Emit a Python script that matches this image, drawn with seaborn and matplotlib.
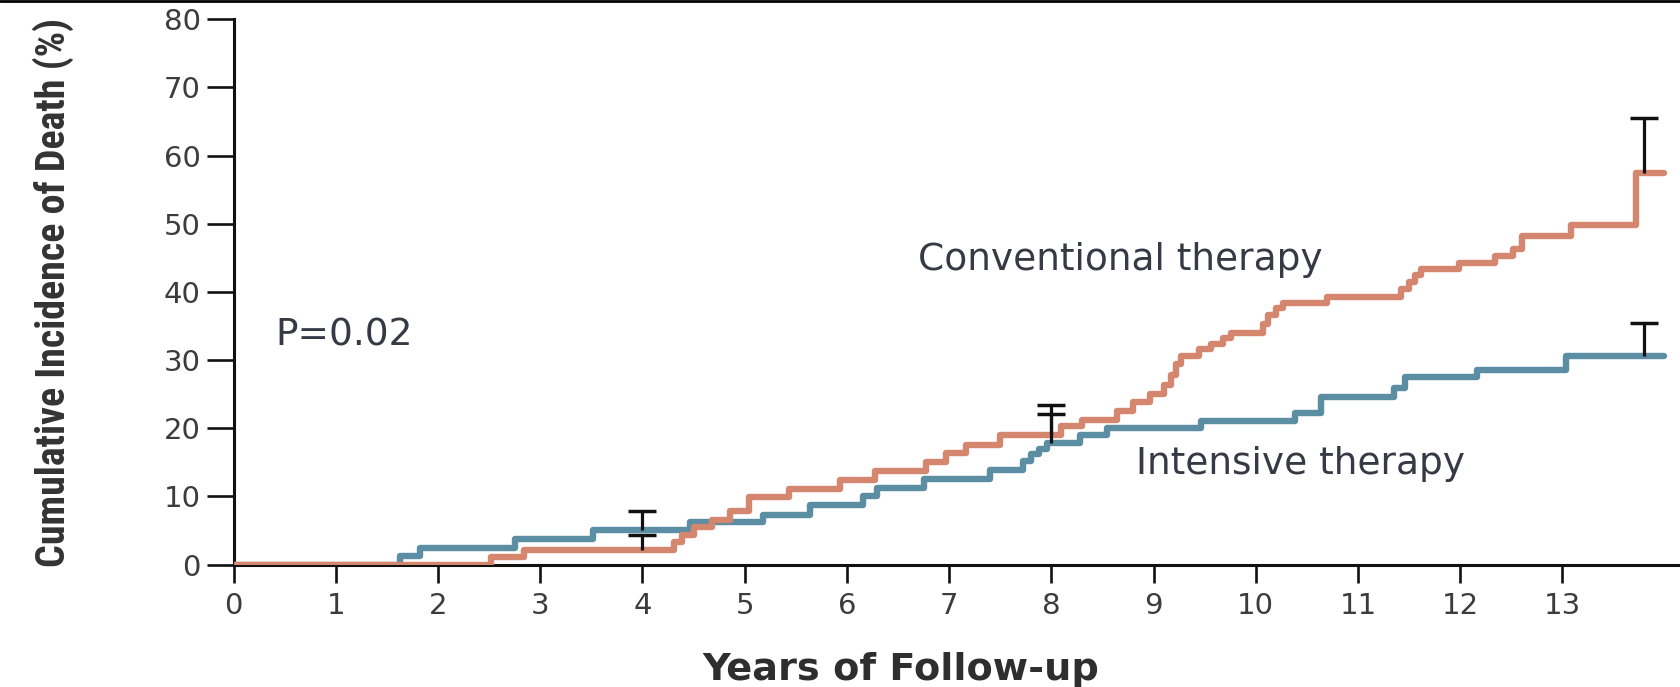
import numpy as np
import pandas as pd
import matplotlib.pyplot as plt
import seaborn as sns

# ── Data ───────────────────────────────────────────────────────────────────────

conv_years = [0, 2.52, 2.84, 4.31, 4.39, 4.50, 4.68, 4.86, 5.04, 5.43, 5.93, 6.28,
              6.77, 6.97, 7.17, 7.50, 8.09, 8.30, 8.64, 8.80, 8.97, 9.10, 9.17,
              9.22, 9.27, 9.44, 9.56, 9.68, 9.76, 10.07, 10.12, 10.20, 10.27,
              10.70, 11.42, 11.50, 11.56, 11.62, 11.99, 12.34, 12.52, 12.60,
              13.08, 13.72, 13.99]
conv_pct = [0, 1.1, 2.2, 3.3, 4.4, 5.5, 6.6, 7.8, 9.9, 11.1, 12.4, 13.8,
            15.1, 16.4, 17.5, 19.0, 20.4, 21.2, 22.5, 23.8, 25.0, 26.3, 27.8,
            29.4, 30.6, 31.6, 32.4, 33.3, 34.0, 35.3, 36.6, 37.6, 38.4,
            39.3, 40.4, 41.5, 42.5, 43.4, 44.3, 45.3, 46.3, 48.2,
            49.8, 57.4, 57.4]

int_years = [0, 1.63, 1.82, 2.75, 3.52, 4.47, 5.18, 5.64, 6.16, 6.29, 6.75,
             7.40, 7.72, 7.80, 7.88, 7.96, 8.28, 8.54, 9.46, 10.38, 10.64,
             11.35, 11.46, 12.16, 13.03, 13.99]
int_pct = [0, 1.2, 2.4, 3.7, 5.1, 6.3, 7.3, 8.8, 10.1, 11.2, 12.5,
           13.9, 15.2, 16.2, 17.0, 17.9, 19.0, 20.1, 21.1, 22.3, 24.6,
           25.9, 27.5, 28.5, 30.6, 30.6]

# upper confidence limits at 4, 8 and end of follow-up
eb_years = [4, 4, 8, 8, 13.8, 13.8]
eb_low = [2.2, 5.1, 17.9, 19.0, 57.4, 30.6]
eb_high = [4.4, 7.9, 22.1, 23.4, 65.5, 35.5]

y_ticks = list(range(0, 90, 10))
x_ticks = list(range(0, 14))

conv_color = "#d4866e"
int_color = "#5b8ea2"
text_color = "#353a45"

# ── Setup ──────────────────────────────────────────────────────────────────────

sns.set_style("ticks")
plt.rcParams["font.family"] = ["DejaVu Sans"]

df = pd.concat([
    pd.DataFrame({"years": int_years, "pct": int_pct, "group": "Intensive therapy"}),
    pd.DataFrame({"years": conv_years, "pct": conv_pct, "group": "Conventional therapy"}),
])

fig = plt.figure(figsize=(16.8, 6.87), dpi=100)
ax = fig.add_axes([0.1390, 0.1782, 0.8610, 0.7937])

# ── Curves (conventional drawn last, on top) ──────────────────────────────────

sns.lineplot(data=df, x="years", y="pct", hue="group",
             hue_order=["Intensive therapy", "Conventional therapy"],
             palette={"Conventional therapy": conv_color, "Intensive therapy": int_color},
             drawstyle="steps-post", lw=4.6, estimator=None, errorbar=None,
             legend=False, ax=ax, zorder=3)

# error bars: stems + top caps only
eb_low = np.array(eb_low)
eb_high = np.array(eb_high)
ax.errorbar(eb_years, eb_low, yerr=[np.zeros_like(eb_low), eb_high - eb_low],
            fmt="none", ecolor="#111111", elinewidth=2.3, capsize=0, zorder=4)
ax.plot(eb_years, eb_high, ls="none", marker="_", markersize=20,
        mew=2.5, color="#111111", zorder=4)

# ── Annotations ────────────────────────────────────────────────────────────────

ax.text(6.70, 43.2, "Conventional therapy", fontsize=27, color=text_color, va="baseline")
ax.text(8.83, 13.3, "Intensive therapy", fontsize=27, color=text_color, va="baseline")
ax.text(0.41, 32.2, "P=0.02", fontsize=27, color=text_color, va="baseline")

# ── Axes ───────────────────────────────────────────────────────────────────────

ax.set_xlim(0, 14.15)
ax.set_ylim(0, 80)
ax.set_xticks(x_ticks)
ax.set_yticks(y_ticks)
ax.tick_params(axis="y", length=19.5, width=1.9, pad=4, labelsize=21,
               labelcolor="#3c3c3c", color="#111111")
ax.tick_params(axis="x", length=13, width=1.9, pad=7, labelsize=21,
               labelcolor="#3c3c3c", color="#111111")
for side in ["top", "right"]:
    ax.spines[side].set_visible(False)
for side in ["left", "bottom"]:
    ax.spines[side].set_linewidth(2.2)
    ax.spines[side].set_color("#111111")

ax.set_xlabel("Years of Follow-up", fontsize=27.5, fontweight="bold",
              color="#2e2e2e", va="baseline")
ax.xaxis.set_label_coords(0.461, -0.2116)

ylab = ax.set_ylabel("Cumulative Incidence of Death (%)", fontsize=31,
                     family=["Liberation Sans Narrow", "Roboto Condensed",
                             "Open Sans Condensed", "DejaVu Sans"],
                     fontstretch="condensed", fontweight="semibold",
                     color="#333333", va="center")
ax.yaxis.set_label_coords(-0.1244, 0.5)

# shrink the y label so it spans the axis height like the original
fig.canvas.draw()
label_len = ylab.get_window_extent().height
ylab.set_fontsize(31 * 550 / label_len)

# thin scan border along the top edge
fig.add_artist(plt.Line2D([0, 1], [0.998, 0.998], transform=fig.transFigure,
                          color="black", lw=2))

fig.savefig("out.png", dpi=100)
plt.close()
print("saved: out.png")
